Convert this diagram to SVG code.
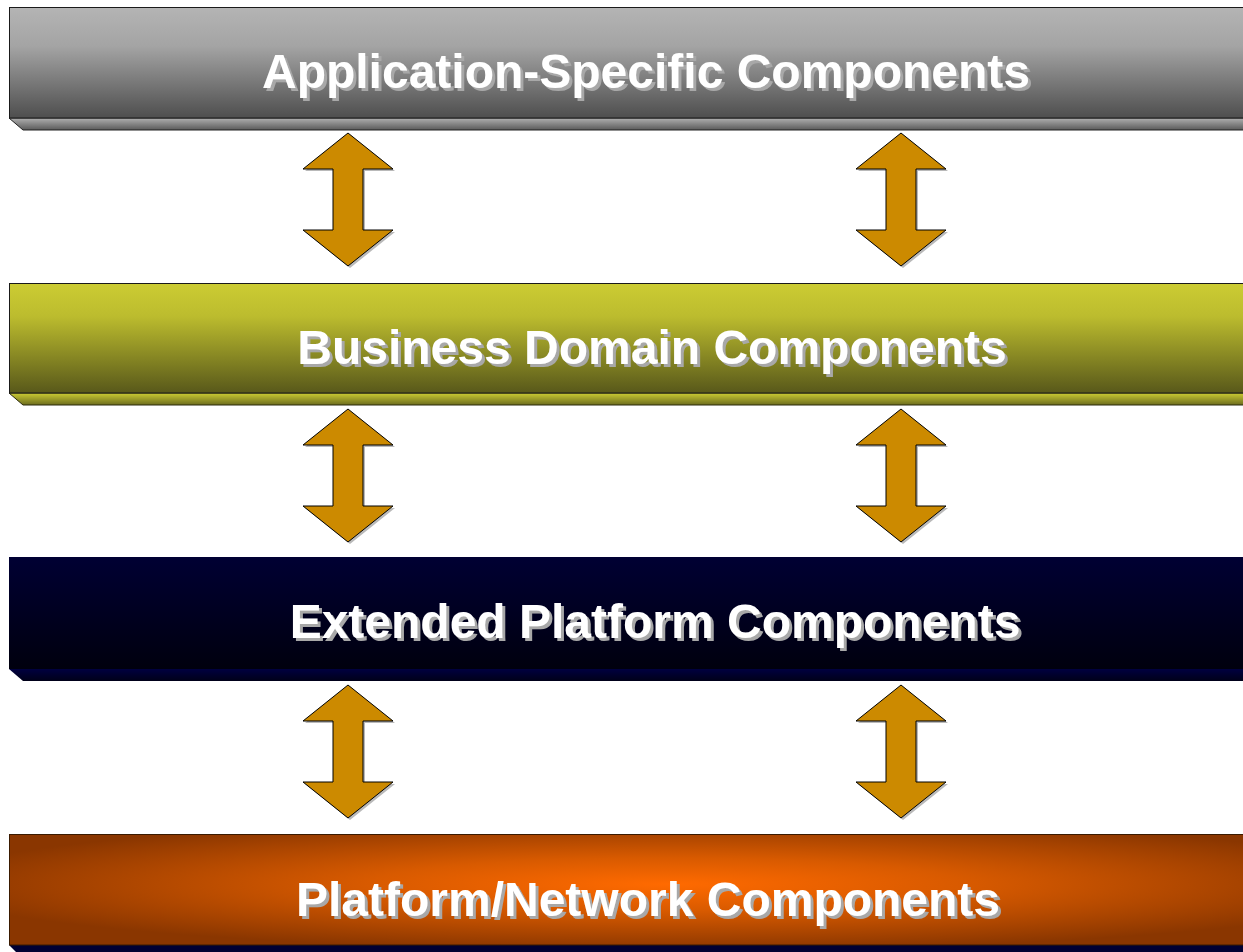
<svg xmlns="http://www.w3.org/2000/svg" xmlns:xlink="http://www.w3.org/1999/xlink" width="1243" height="952" viewBox="0 0 1243 952">
<style>
.lbl{font-family:"Liberation Sans",Arial,sans-serif;font-weight:bold;font-size:48px;text-anchor:middle;fill:#ffffff;filter:url(#tsh)}
.bar{stroke:#1a1a1a;stroke-width:1}
.arr{fill:#cc8a00;stroke:#000;stroke-width:1;stroke-linejoin:miter}
.arrsh{fill:#8a8a8a;opacity:0.6}
</style>
<defs>
<filter id="tsh" x="-5%" y="-20%" width="110%" height="140%">
<feOffset in="SourceAlpha" dx="2.5" dy="2.5" result="o"/>
<feFlood flood-color="#a8a8a8"/>
<feComposite in2="o" operator="in" result="s"/>
<feMerge><feMergeNode in="s"/><feMergeNode in="SourceGraphic"/></feMerge>
</filter>
<linearGradient id="g1" x1="0" y1="0" x2="0" y2="1"><stop offset="0" stop-color="#b4b4b4"/><stop offset="0.35" stop-color="#a4a4a4"/><stop offset="1" stop-color="#4e4e4e"/></linearGradient>
<linearGradient id="g1b" x1="0" y1="0" x2="0" y2="1"><stop offset="0" stop-color="#b0b0b0"/><stop offset="1" stop-color="#5a5a5a"/></linearGradient>
<linearGradient id="g2" x1="0" y1="0" x2="0" y2="1"><stop offset="0" stop-color="#cccc33"/><stop offset="0.3" stop-color="#bcbc2e"/><stop offset="1" stop-color="#58581a"/></linearGradient>
<linearGradient id="g2b" x1="0" y1="0" x2="0" y2="1"><stop offset="0" stop-color="#cccc33"/><stop offset="1" stop-color="#6c6c1e"/></linearGradient>
<linearGradient id="g3" x1="0" y1="0" x2="0" y2="1"><stop offset="0" stop-color="#000033"/><stop offset="1" stop-color="#00000e"/></linearGradient>
<linearGradient id="g3b" x1="0" y1="0" x2="0" y2="1"><stop offset="0" stop-color="#000040"/><stop offset="1" stop-color="#000018"/></linearGradient>
<radialGradient id="g4" cx="0.53" cy="0.45" r="0.6"><stop offset="0" stop-color="#ff6a00"/><stop offset="0.4" stop-color="#d85a00"/><stop offset="1" stop-color="#8a3600"/></radialGradient>
<polygon id="arrow" points="0,0 45,36 15,36 15,97 45,97 0,133 -45,97 -15,97 -15,36 -45,36"/>
</defs>
<rect width="1243" height="952" fill="#ffffff"/>

<g id="connectors">
<g class="arrsh">
<use xlink:href="#arrow" x="350" y="135"/><use xlink:href="#arrow" x="903" y="135"/>
<use xlink:href="#arrow" x="350" y="411"/><use xlink:href="#arrow" x="903" y="411"/>
<use xlink:href="#arrow" x="350" y="687"/><use xlink:href="#arrow" x="903" y="687"/>
</g>
<g class="arr">
<use xlink:href="#arrow" x="348" y="133"/><use xlink:href="#arrow" x="901" y="133"/>
<use xlink:href="#arrow" x="348" y="409"/><use xlink:href="#arrow" x="901" y="409"/>
<use xlink:href="#arrow" x="348" y="685"/><use xlink:href="#arrow" x="901" y="685"/>
</g>
</g>

<g id="app">
<polygon points="9,118 23,130 1244,130 1244,118" fill="url(#g1b)" stroke="#222" stroke-width="1"/>
<rect class="bar" x="9.5" y="7.5" width="1240" height="110.5" fill="url(#g1)"/>
<text class="lbl" x="646" y="88">Application-Specific Components</text>
</g>

<g id="business">
<polygon points="9,393 23,405 1244,405 1244,393" fill="url(#g2b)" stroke="#2a2a0a" stroke-width="1"/>
<rect class="bar" x="9.5" y="283.5" width="1240" height="109.5" fill="url(#g2)"/>
<text class="lbl" x="652" y="364">Business Domain Components</text>
</g>

<g id="extended">
<polygon points="9,669 23,681 1244,681 1244,669" fill="url(#g3b)"/>
<rect x="9" y="557" width="1240" height="112" fill="url(#g3)"/>
<text class="lbl" x="655" y="638">Extended Platform Components</text>
</g>

<g id="platform">
<polygon points="9,945 16,952 1244,952 1244,945" fill="#000033"/>
<rect x="9.5" y="834.5" width="1240" height="110.5" fill="url(#g4)" stroke="#3a1a00" stroke-width="1"/>
<text class="lbl" x="648" y="916">Platform/Network Components</text>
</g>
</svg>
